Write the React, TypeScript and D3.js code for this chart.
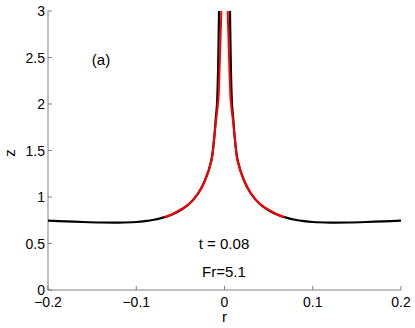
import React from "react";
import * as d3 from "d3";

// black curve (full solution)
const blackR = [-0.2, -0.18, -0.16, -0.14, -0.12, -0.1, -0.09, -0.08, -0.07, -0.06, -0.05, -0.04, -0.03, -0.022, -0.015, -0.012, -0.01, -0.0085, -0.0072, -0.0062, -0.0055, 0.0055, 0.0062, 0.0072, 0.0085, 0.01, 0.012, 0.015, 0.022, 0.03, 0.04, 0.05, 0.06, 0.07, 0.08, 0.09, 0.1, 0.12, 0.14, 0.16, 0.18, 0.2];
const blackZ = [0.745, 0.738, 0.731, 0.726, 0.725, 0.731, 0.74, 0.755, 0.778, 0.81, 0.858, 0.925, 1.035, 1.18, 1.39, 1.6, 1.83, 2.0, 2.4, 3.0, 3.4, 3.4, 3.0, 2.4, 2.0, 1.83, 1.6, 1.39, 1.18, 1.035, 0.925, 0.858, 0.81, 0.778, 0.755, 0.74, 0.731, 0.725, 0.726, 0.731, 0.738, 0.745];

// red curve (inner region)
const redR = [-0.068, -0.06, -0.054, -0.047, -0.039, -0.03, -0.022, -0.0145, -0.012, -0.0095, -0.007, -0.0055, -0.0044, -0.0036, -0.0032, 0.0032, 0.0036, 0.0044, 0.0055, 0.007, 0.0095, 0.012, 0.0145, 0.022, 0.03, 0.039, 0.047, 0.054, 0.06, 0.068];
const redZ = [0.784, 0.812, 0.842, 0.88, 0.935, 1.04, 1.18, 1.4, 1.61, 1.83, 2.04, 2.4, 2.75, 3.0, 3.3, 3.3, 3.0, 2.75, 2.4, 2.04, 1.83, 1.61, 1.4, 1.18, 1.04, 0.935, 0.88, 0.842, 0.812, 0.784];

const xTicks = [-0.2, -0.1, 0, 0.1, 0.2];
const yTicks = [0, 0.5, 1, 1.5, 2, 2.5, 3];

const W = 415;
const H = 328;
const font = "'Liberation Sans', Arial, sans-serif";

const fmt = (v: number) => (v < 0 ? "\u2212" + String(-v) : String(v));

export default function App() {
  const x = d3.scaleLinear().domain([-0.2, 0.2]).range([48, 401]);
  const y = d3.scaleLinear().domain([0, 3]).range([290, 11]);

  const curve = d3.curveCatmullRom.alpha(0.5);
  const blackPath = d3
    .line<number>()
    .x((d) => x(d))
    .y((_, i) => y(blackZ[i]))
    .curve(curve)(blackR);
  const redPath = d3
    .line<number>()
    .x((d) => x(d))
    .y((_, i) => y(redZ[i]))
    .curve(curve)(redR);

  const axisColor = "#7f7f7f";

  return (
    <svg
      width={W}
      height={H}
      style={{ position: "fixed", left: 0, top: 0, background: "#fff" }}
      fontFamily={font}
    >
      <defs>
        <clipPath id="plotclip">
          <rect x={48} y={11} width={353} height={279} />
        </clipPath>
      </defs>

      {/* axes */}
      <line x1={48} x2={48} y1={11} y2={290.5} stroke={axisColor} strokeWidth={1} />
      <line x1={47.5} x2={401} y1={290} y2={290} stroke={axisColor} strokeWidth={1} />

      {xTicks.map((t) => (
        <g key={"x" + t}>
          <line x1={x(t)} x2={x(t)} y1={290} y2={286} stroke={axisColor} />
          <text x={x(t)} y={306.5} textAnchor="middle" fontSize={14} fill="#000">
            {fmt(t)}
          </text>
        </g>
      ))}
      {yTicks.map((t) => (
        <g key={"y" + t}>
          <line x1={48} x2={52} y1={y(t)} y2={y(t)} stroke={axisColor} />
          <text x={45} y={y(t) + 5} textAnchor="end" fontSize={14} fill="#000">
            {t}
          </text>
        </g>
      ))}

      <g clipPath="url(#plotclip)">
        <path d={blackPath || ""} fill="none" stroke="#000" strokeWidth={2.2} />
        <path d={redPath || ""} fill="none" stroke="#ff0000" strokeWidth={2} />
      </g>

      <text x={224.5} y={322} textAnchor="middle" fontSize={15}>r</text>
      <text
        transform="translate(15,153) rotate(-90)"
        textAnchor="middle"
        fontSize={15}
      >
        z
      </text>

      <text x={101} y={65} textAnchor="middle" fontSize={15}>(a)</text>
      <text x={224} y={249} textAnchor="middle" fontSize={15}>t = 0.08</text>
      <text x={224} y={277} textAnchor="middle" fontSize={15}>Fr=5.1</text>
    </svg>
  );
}
